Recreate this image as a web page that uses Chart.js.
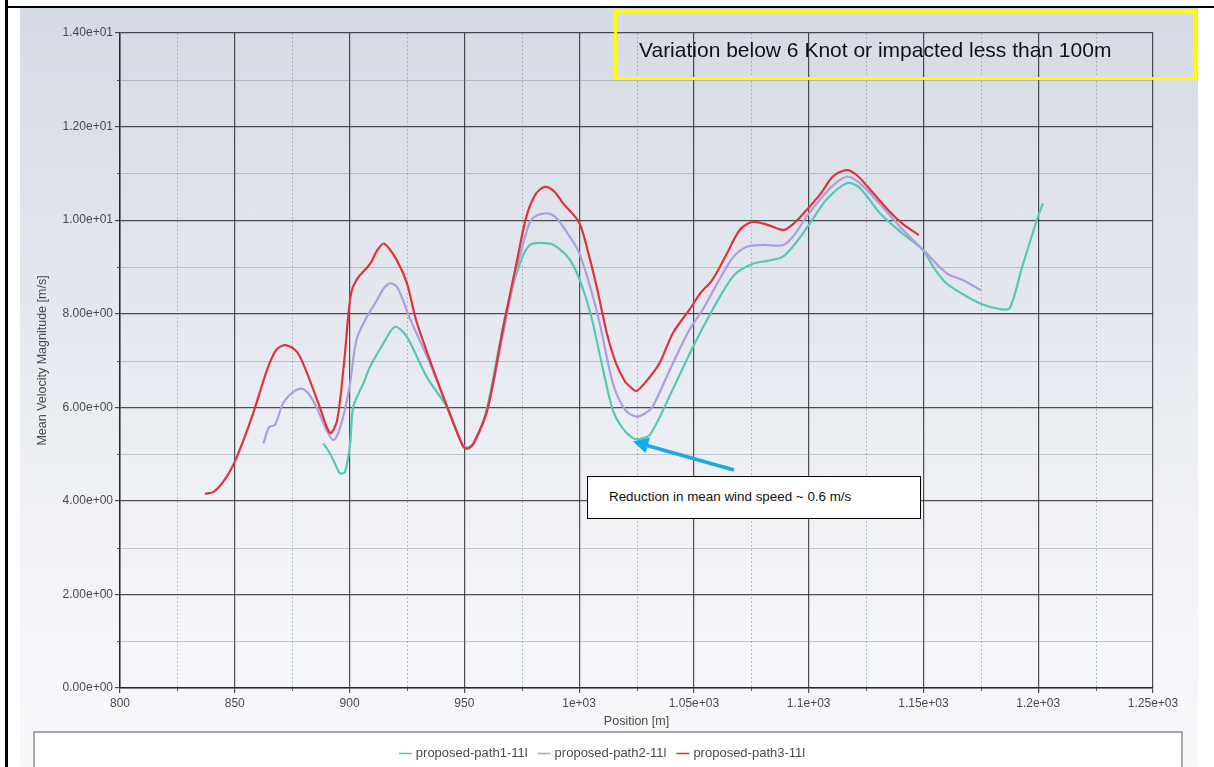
<!DOCTYPE html>
<html>
<head>
<meta charset="utf-8">
<script src="https://cdn.jsdelivr.net/npm/chart.js@4.4.0/dist/chart.umd.min.js"></script>
<style>
html,body{margin:0;padding:0;background:#fff;width:1214px;height:767px;overflow:hidden;position:relative;font-family:"Liberation Sans",Arial,sans-serif;}
#bg{position:absolute;left:20px;top:8px;width:1178px;height:759px;background:linear-gradient(180deg,#d5dae4 0%,#e2e6ed 35%,#eff1f5 65%,#f8f9fb 100%);}
#frameTop{position:absolute;left:5px;top:6px;width:1209px;height:2px;background:#000;}
#frameLeft{position:absolute;left:5px;top:0;width:3px;height:767px;background:#000;}
#wrap{position:absolute;left:0;top:0;width:1214px;height:767px;}
#note1{position:absolute;left:614px;top:10px;width:583px;height:70px;box-sizing:border-box;border:3px solid #ffff00;font-size:21px;color:#111;padding-left:22px;padding-top:17px;line-height:40px;white-space:nowrap;}
#note2{position:absolute;left:587px;top:476px;width:334px;height:43px;box-sizing:border-box;border:1.5px solid #000;background:#fff;font-size:13.4px;color:#111;padding-left:21px;line-height:39px;white-space:nowrap;}
#arrow{position:absolute;left:0;top:0;}
</style>
</head>
<body>
<div id="bg"></div>
<div id="frameTop"></div>
<div id="frameLeft"></div>
<div id="wrap"><canvas id="c" width="1214" height="767"></canvas></div>
<div id="note1">Variation below 6 Knot or impacted less than 100m</div>
<svg id="arrow" width="1214" height="767">
  <line x1="734" y1="470" x2="647" y2="445.5" stroke="#1aa8e8" stroke-width="3.6"/>
  <polygon points="633,441.5 650,437.5 645.5,453" fill="#1aa8e8"/>
</svg>
<div id="note2">Reduction in mean wind speed ~ 0.6 m/s</div>
<script>
// ---- data ----
const seriesLabels = ['proposed-path1-11l', 'proposed-path2-11l', 'proposed-path3-11l'];
const seriesColors = ['#54c9b3', '#ad9fd9', '#e0323d'];

const path1X = [888.5,891,893,895.8,898,900.2,901.6,906,909,914.7,919.8,924.9,933.6,942.3,949.5,952,955,959.7,968.4,974.2,978.6,987.3,991,996,1000.3,1005,1010,1014.7,1019,1023.4,1026,1030.8,1040,1048.3,1055,1061.3,1068,1075.7,1082,1088.8,1095,1100.5,1108,1116.6,1122,1131,1140,1149.7,1155,1160,1167,1174.6,1183.3,1187.6,1193,1199.4,1202];
const path1Y = [5.23,5.05,4.87,4.59,4.62,5.2,6.0,6.51,6.87,7.36,7.72,7.51,6.65,6.01,5.16,5.12,5.3,5.94,8.08,9.07,9.47,9.5,9.4,9.15,8.72,8.0,6.9,5.94,5.55,5.34,5.32,5.41,6.3,7.16,7.8,8.36,8.85,9.07,9.13,9.22,9.55,9.93,10.45,10.79,10.7,10.15,9.75,9.36,8.95,8.65,8.42,8.22,8.1,8.12,9.0,10.0,10.36];

const path2X = [862.5,865,867.5,871,875.5,879,882,885.5,890,893,896,900,903,907.5,911.5,915,918,921,926,935,942,949.5,952,955,960,967,973,978.5,982,987,990,993,1000,1008,1014.7,1020,1025,1029,1032,1040,1048,1054,1061,1067,1073,1080,1089,1094,1099,1106,1112,1117,1122,1130,1140,1150,1160,1168,1175];
const path2Y = [5.23,5.58,5.62,6.08,6.33,6.4,6.3,6.01,5.51,5.3,5.58,6.44,7.44,7.93,8.25,8.55,8.65,8.55,7.93,6.94,6.08,5.18,5.15,5.3,5.94,7.6,9.0,9.95,10.11,10.14,10.05,9.86,9.3,8.0,6.52,5.95,5.8,5.88,6.01,6.85,7.65,8.1,8.72,9.2,9.43,9.47,9.47,9.7,10.07,10.5,10.8,10.93,10.8,10.4,9.85,9.36,8.87,8.7,8.5];

const path3X = [837,841,846.5,851,858,864,868,872,877,881,887,891.5,894.5,897.5,900.5,903,909,912,915,920.5,925,929,935,942,949.5,951.5,954,960,967,973,977,981,985,989,993,1000,1004,1008,1012,1016,1020,1022,1025,1030,1035,1041,1048,1053,1058,1064,1070,1075.5,1082,1089,1094,1099,1105,1110.5,1116.5,1121,1127,1134,1141,1148];
const path3Y = [4.15,4.2,4.52,4.95,5.87,6.79,7.22,7.33,7.19,6.79,6.01,5.45,5.7,6.9,8.4,8.72,9.07,9.35,9.5,9.15,8.65,7.86,7.01,6.08,5.16,5.12,5.23,5.94,7.72,9.15,10.07,10.55,10.71,10.62,10.36,9.95,9.3,8.5,7.6,6.95,6.55,6.45,6.35,6.6,6.94,7.6,8.08,8.45,8.72,9.25,9.79,9.96,9.9,9.79,9.95,10.21,10.55,10.93,11.07,10.96,10.64,10.25,9.92,9.68];

const xTickValues = [800,850,900,950,1000,1050,1100,1150,1200,1250];
const xTickLabels = ['800','850','900','950','1e+03','1.05e+03','1.1e+03','1.15e+03','1.2e+03','1.25e+03'];
const yTickValues = [0,2,4,6,8,10,12,14];
const yTickLabels = ['0.00e+00','2.00e+00','4.00e+00','6.00e+00','8.00e+00','1.00e+01','1.20e+01','1.40e+01'];
const xMinor = [825,875,925,975,1025,1075,1125,1175,1225];
const yMinor = [1,3,5,7,9,11,13];

const xTitle = 'Position [m]';
const yTitle = 'Mean Velocity Magnitude [m/s]';

// ---- build datasets ----
function pts(xs, ys){ return xs.map((x,i)=>({x:x, y:ys[i]})); }
const allX = [path1X, path2X, path3X];
const allY = [path1Y, path2Y, path3Y];
const datasets = seriesLabels.map((lab,i)=>({
  label: lab,
  data: pts(allX[i], allY[i]),
  borderColor: seriesColors[i],
  backgroundColor: seriesColors[i],
  borderWidth: 2.2,
  pointRadius: 0,
  showLine: true,
  tension: 0.3,
  order: 2 - i
}));

const FONT = '"Liberation Sans", Arial, sans-serif';

const minorGrid = {
  id: 'minorGrid',
  beforeDatasetsDraw(chart){
    const {ctx, chartArea:a, scales:{x, y}} = chart;
    ctx.save();
    ctx.lineWidth = 1;
    ctx.strokeStyle = 'rgba(120,124,135,0.45)';
    ctx.setLineDash([2,2]);
    xMinor.forEach(v=>{
      const px = Math.round(x.getPixelForValue(v)) + 0.5;
      ctx.beginPath(); ctx.moveTo(px, a.top); ctx.lineTo(px, a.bottom); ctx.stroke();
    });
    ctx.setLineDash([]);
    ctx.strokeStyle = 'rgba(120,124,135,0.38)';
    yMinor.forEach(v=>{
      const py = Math.round(y.getPixelForValue(v)) + 0.5;
      ctx.beginPath(); ctx.moveTo(a.left, py); ctx.lineTo(a.right, py); ctx.stroke();
    });
    // minor tick marks
    ctx.strokeStyle = 'rgba(60,60,60,0.8)';
    xMinor.forEach(v=>{
      const px = Math.round(x.getPixelForValue(v)) + 0.5;
      ctx.beginPath(); ctx.moveTo(px, a.bottom); ctx.lineTo(px, a.bottom + 3); ctx.stroke();
    });
    yMinor.forEach(v=>{
      const py = Math.round(y.getPixelForValue(v)) + 0.5;
      ctx.beginPath(); ctx.moveTo(a.left - 3, py); ctx.lineTo(a.left, py); ctx.stroke();
    });
    ctx.restore();
  }
};

const boxLegend = {
  id: 'boxLegend',
  afterDraw(chart){
    const ctx = chart.ctx;
    ctx.save();
    // legend frame
    ctx.fillStyle = '#ffffff';
    ctx.fillRect(34, 732, 1148, 40);
    ctx.strokeStyle = '#8c8c8c';
    ctx.lineWidth = 1.5;
    ctx.strokeRect(34, 732, 1148, 40);
    ctx.font = '13px ' + FONT;
    ctx.textBaseline = 'middle';
    const lineLen = 13, gap1 = 4, gap2 = 10;
    const ds = chart.data.datasets;
    const widths = ds.map(d=>ctx.measureText(d.label).width);
    const total = widths.reduce((s,w)=>s+w+lineLen+gap1,0) + gap2*(ds.length-1);
    let xx = 602 - total/2;
    const cy = 753;
    ds.forEach((d,i)=>{
      ctx.strokeStyle = d.borderColor;
      ctx.lineWidth = 1.5;
      ctx.beginPath(); ctx.moveTo(xx, cy+0.5); ctx.lineTo(xx+lineLen, cy+0.5); ctx.stroke();
      xx += lineLen + gap1;
      ctx.fillStyle = '#4a4a4a';
      ctx.fillText(d.label, xx, cy);
      xx += widths[i] + gap2;
    });
    ctx.restore();
  }
};

new Chart(document.getElementById('c'), {
  type: 'scatter',
  data: { datasets },
  plugins: [minorGrid, boxLegend],
  options: {
    responsive: false,
    animation: false,
    layout: { padding: { left: 20, top: 33, right: 61, bottom: 0 } },
    plugins: { legend: { display: false }, tooltip: { enabled: false } },
    scales: {
      x: {
        type: 'linear', min: 800, max: 1250,
        afterBuildTicks(scale){ scale.ticks = xTickValues.map(v=>({value:v})); },
        afterFit(scale){ scale.height = 79; },
        ticks: {
          autoSkip: false, maxRotation: 0, padding: 3,
          color: '#4a4a4a', font: { family: FONT, size: 12 },
          callback(v){ const i = xTickValues.indexOf(v); return i >= 0 ? xTickLabels[i] : ''; }
        },
        grid: { color: 'rgba(35,35,40,0.8)', lineWidth: 1.2, tickLength: 5, tickColor: 'rgba(35,35,40,0.8)' },
        border: { color: 'rgba(35,35,40,0.9)', width: 1.5 },
        title: { display: true, text: xTitle, color: '#4a4a4a', font: { family: FONT, size: 12.5 }, padding: { top: 0, bottom: 37.5 } }
      },
      y: {
        type: 'linear', min: 0, max: 14,
        afterBuildTicks(scale){ scale.ticks = yTickValues.map(v=>({value:v})); },
        afterFit(scale){ scale.width = 100; },
        ticks: {
          autoSkip: false, padding: 2,
          color: '#4a4a4a', font: { family: FONT, size: 12 },
          callback(v){ const i = yTickValues.indexOf(v); return i >= 0 ? yTickLabels[i] : ''; }
        },
        grid: { color: 'rgba(35,35,40,0.8)', lineWidth: 1.2, tickLength: 5, tickColor: 'rgba(35,35,40,0.8)' },
        border: { color: 'rgba(35,35,40,0.9)', width: 1.5 },
        title: { display: true, text: yTitle, color: '#4a4a4a', font: { family: FONT, size: 12.5 }, padding: { top: 15.5, bottom: 0 } }
      }
    }
  }
});
</script>
</body>
</html>
